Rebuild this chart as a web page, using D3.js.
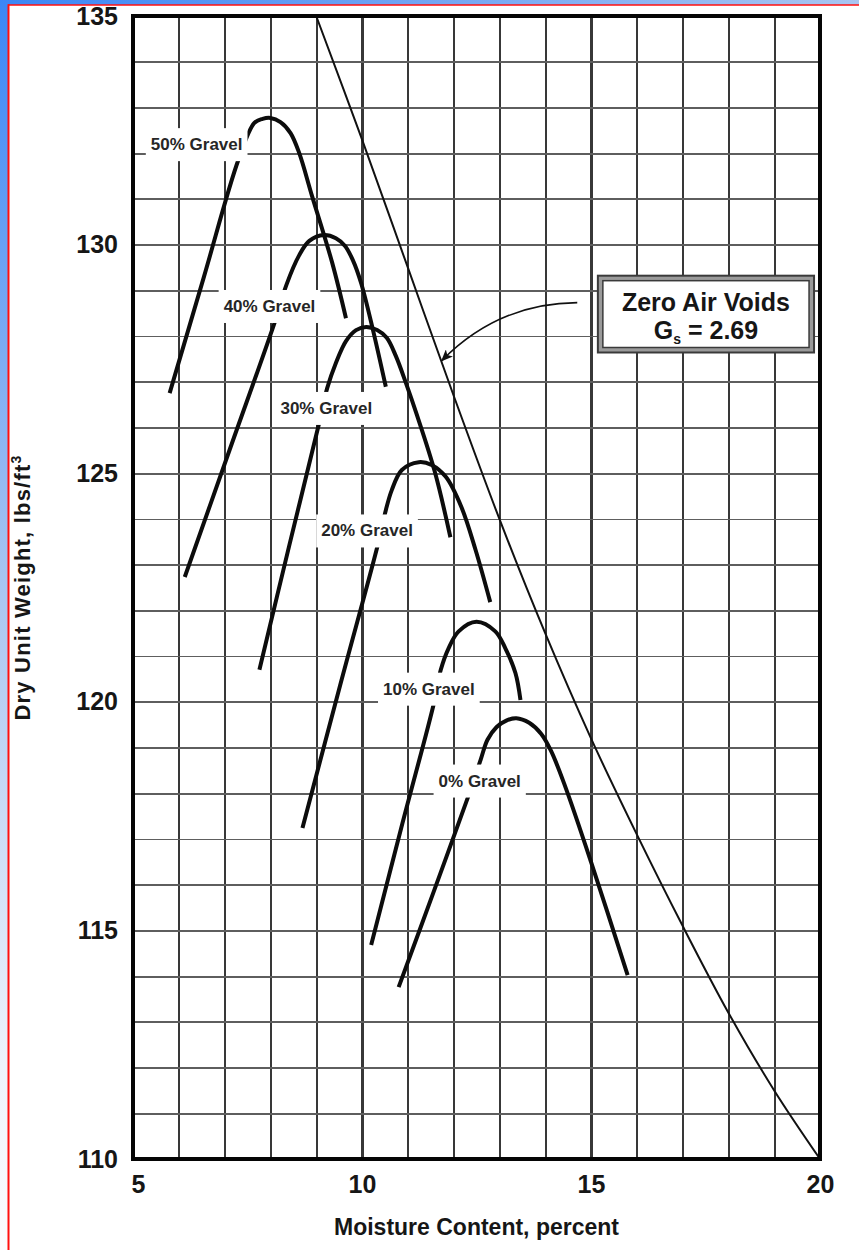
<!DOCTYPE html>
<html lang="en">

<head>
    <meta charset="UTF-8">
    <title>Moisture - Density Curves, Gravel Content</title>
    <style>
        body {
            margin: 0;
            background: #fff;
        }

        svg {
            display: block;
        }

        .grid line {
            shape-rendering: crispEdges;
        }

        .grid-x line {
            stroke: #383838;
            stroke-width: 2.2;
        }

        .grid-y line {
            stroke: #5e5e5e;
            stroke-width: 1.8;
        }

        .axis text {
            font-family: "Liberation Sans", Arial, sans-serif;
            font-weight: bold;
            font-size: 25px;
            fill: #161616;
        }

        .title {
            font-family: "Liberation Sans", Arial, sans-serif;
            font-weight: bold;
            fill: #161616;
        }

        .curve {
            fill: none;
            stroke: #0c0c0c;
            stroke-width: 4;
        }

        .zav {
            fill: none;
            stroke: #111;
            stroke-width: 2;
        }

        .gravel-label text {
            font-family: "Liberation Sans", Arial, sans-serif;
            font-weight: bold;
            font-size: 17px;
            fill: #262626;
            text-anchor: middle;
        }
    </style>
</head>

<body>
    <script src="https://d3js.org/d3.v7.min.js"></script>
    <script>
        const width = 859;
        const height = 1250;
        // plot frame inside the page
        const padding = { left: 133, right: 36, top: 16, bottom: 91 };

        // moisture content (%) / dry unit weight (lbs/ft3)
        const gravel50M = [5.80, 6.55, 7.30, 7.65, 7.83, 8.00, 8.22, 8.44, 8.63, 8.91, 9.35, 9.65];
        const gravel50W = [126.75, 129.30, 131.85, 132.66, 132.75, 132.77, 132.68, 132.44, 132.00, 131.06, 129.60, 128.39];

        const gravel40M = [6.13, 7.12, 8.11, 8.35, 8.63, 8.85, 9.17, 9.43, 9.63, 9.80, 9.98, 10.24, 10.52];
        const gravel40W = [122.73, 125.54, 128.35, 129.12, 129.77, 130.08, 130.21, 130.14, 129.97, 129.66, 129.16, 128.13, 126.89];

        const gravel30M = [7.76, 8.41, 9.07, 9.24, 9.43, 9.65, 9.87, 10.09, 10.33, 10.54, 10.74, 10.96, 11.20, 11.59, 11.93];
        const gravel30W = [120.70, 123.41, 126.12, 126.86, 127.41, 127.89, 128.13, 128.20, 128.13, 127.96, 127.56, 126.97, 126.27, 125.03, 123.60];

        const gravel20M = [8.70, 9.52, 10.35, 10.52, 10.65, 10.87, 11.24, 11.52, 11.83, 12.17, 12.48, 12.80];
        const gravel20W = [117.24, 120.35, 123.45, 124.19, 124.63, 125.07, 125.24, 125.18, 124.92, 124.26, 123.32, 122.18];

        const gravel10M = [10.20, 10.88, 11.57, 11.72, 11.89, 12.11, 12.50, 12.91, 13.13, 13.35, 13.46];
        const gravel10W = [114.68, 117.33, 119.97, 120.70, 121.17, 121.54, 121.75, 121.54, 121.17, 120.63, 120.04];

        const gravel0M = [10.80, 11.57, 12.33, 12.59, 12.74, 12.94, 13.15, 13.37, 13.65, 13.91, 14.13, 14.44, 15.00, 15.80];
        const gravel0W = [113.76, 115.86, 117.96, 118.73, 119.17, 119.45, 119.59, 119.64, 119.54, 119.30, 118.92, 118.14, 116.50, 114.02];

        // zero air voids line, Gs = 2.69
        const zavM = [9, 10, 11, 12, 13, 14, 15, 16, 17, 18, 19, 20];
        const zavW = [135.0, 132.3, 129.5, 126.7, 124.0, 121.5, 119.2, 117.1, 115.1, 113.2, 111.5, 110.0];

        const labelText = ['50% Gravel', '40% Gravel', '30% Gravel', '20% Gravel', '10% Gravel', '0% Gravel'];
        const labelM = [6.39, 7.98, 9.22, 10.11, 11.46, 12.57];
        const labelW = [132.2, 128.66, 126.43, 123.75, 120.29, 118.28];

        const xTicks = [5, 10, 15, 20];
        const yTicks = [110, 115, 120, 125, 130, 135];

        const curves = [
            [gravel50M, gravel50W],
            [gravel40M, gravel40W],
            [gravel30M, gravel30W],
            [gravel20M, gravel20W],
            [gravel10M, gravel10W],
            [gravel0M, gravel0W]
        ];

        const xScale = d3.scaleLinear()
            .domain([5, 20])
            .range([padding.left, width - padding.right - 3]);
        const yScale = d3.scaleLinear()
            .domain([110, 135])
            .range([height - padding.bottom, padding.top]);

        const svg = d3.select('body').append('svg').attr('width', width).attr('height', height);

        // page background: blue wash at the top left, red rule, white sheet
        const defs = svg.append('defs');
        const grad = defs.append('linearGradient')
            .attr('id', 'wash')
            .attr('gradientUnits', 'userSpaceOnUse')
            .attr('x1', 0).attr('y1', 0).attr('x2', width).attr('y2', height);
        grad.append('stop').attr('offset', 0).attr('stop-color', '#3a86f6');
        grad.append('stop').attr('offset', 0.33).attr('stop-color', '#acc7f1');
        grad.append('stop').attr('offset', 0.58).attr('stop-color', '#eef3fc');
        grad.append('stop').attr('offset', 0.7).attr('stop-color', '#ffffff');

        defs.append('marker')
            .attr('id', 'arrow')
            .attr('viewBox', '0 0 12 10')
            .attr('refX', 11)
            .attr('refY', 5)
            .attr('markerWidth', 12)
            .attr('markerHeight', 10)
            .attr('markerUnits', 'userSpaceOnUse')
            .attr('orient', 'auto')
            .append('path')
            .attr('d', 'M0,0 L12,5 L0,10 L3,5 z')
            .attr('fill', '#111');

        svg.append('rect').attr('width', width).attr('height', height).attr('fill', 'url(#wash)');
        svg.append('rect').attr('x', 8).attr('y', 5).attr('width', width - 8).attr('height', height - 5).attr('fill', '#fff');
        svg.append('line').attr('x1', 8).attr('x2', width).attr('y1', 5).attr('y2', 5)
            .attr('stroke', '#ff1010').attr('stroke-width', 1.6);
        svg.append('line').attr('x1', 8.5).attr('x2', 8.5).attr('y1', 4.2).attr('y2', height)
            .attr('stroke', '#ff1010').attr('stroke-width', 2);

        const plotW = xScale(20) - xScale(5);
        const plotH = yScale(110) - yScale(135);

        // grid, one line per percent and per lb
        svg.append('g')
            .attr('class', 'grid grid-x')
            .attr('transform', 'translate(0,' + yScale(110) + ')')
            .call(d3.axisBottom(xScale).tickValues(d3.range(6, 20)).tickSize(-plotH).tickFormat(''))
            .call(function (g) { g.select('.domain').remove(); });
        svg.append('g')
            .attr('class', 'grid grid-y')
            .attr('transform', 'translate(' + xScale(5) + ',0)')
            .call(d3.axisLeft(yScale).tickValues(d3.range(111, 135)).tickSize(-plotW).tickFormat(''))
            .call(function (g) { g.select('.domain').remove(); });

        const line = d3.line()
            .x(function (d) { return xScale(d[0]); })
            .y(function (d) { return yScale(d[1]); })
            .curve(d3.curveCatmullRom.alpha(0.5));

        svg.append('path')
            .attr('class', 'zav')
            .attr('d', line(d3.zip(zavM, zavW)));

        svg.selectAll('.curve')
            .data(curves)
            .enter()
            .append('path')
            .attr('class', 'curve')
            .attr('d', function (d) { return line(d3.zip(d[0], d[1])); });

        // labels sit on white boxes that cut the grid and the dry side
        const labels = svg.selectAll('.gravel-label')
            .data(labelText)
            .enter()
            .append('g')
            .attr('class', 'gravel-label')
            .attr('transform', function (d, i) {
                return 'translate(' + xScale(labelM[i]) + ',' + yScale(labelW[i]) + ')';
            });
        labels.append('text')
            .attr('dy', '0.36em')
            .text(function (d) { return d; });
        labels.each(function () {
            const g = d3.select(this);
            const bb = g.select('text').node().getBBox();
            g.insert('rect', 'text')
                .attr('x', bb.x - 5)
                .attr('y', bb.y - 7)
                .attr('width', bb.width + 10)
                .attr('height', bb.height + 14)
                .attr('fill', '#fff');
        });

        // zero air voids note
        const noteX0 = xScale(15.15), noteX1 = xScale(19.87);
        const noteY0 = yScale(129.32), noteY1 = yScale(127.64);
        const note = svg.append('g');
        note.append('rect')
            .attr('x', noteX0).attr('y', noteY0)
            .attr('width', noteX1 - noteX0).attr('height', noteY1 - noteY0)
            .attr('fill', '#9a9a9a').attr('stroke', '#3a3a3a').attr('stroke-width', 2);
        note.append('rect')
            .attr('x', noteX0 + 5).attr('y', noteY0 + 5)
            .attr('width', noteX1 - noteX0 - 10).attr('height', noteY1 - noteY0 - 10)
            .attr('fill', '#fff').attr('stroke', '#3a3a3a').attr('stroke-width', 1.5);
        const noteCx = (noteX0 + noteX1) / 2;
        note.append('text')
            .attr('class', 'title')
            .attr('x', noteCx).attr('y', noteY0 + 35)
            .attr('text-anchor', 'middle')
            .attr('font-size', 25)
            .text('Zero Air Voids');
        const gs = note.append('text')
            .attr('class', 'title')
            .attr('x', noteCx).attr('y', noteY0 + 63)
            .attr('text-anchor', 'middle')
            .attr('font-size', 25);
        gs.append('tspan').text('G');
        gs.append('tspan').attr('font-size', 14).attr('dy', 5).text('s');
        gs.append('tspan').attr('dy', -5).text(' = 2.69');

        svg.append('path')
            .attr('d', 'M' + xScale(14.70) + ',' + yScale(128.73) +
                ' Q' + xScale(12.98) + ',' + yScale(128.72) +
                ' ' + xScale(11.74) + ',' + yScale(127.46))
            .attr('fill', 'none')
            .attr('stroke', '#111')
            .attr('stroke-width', 1.6)
            .attr('marker-end', 'url(#arrow)');

        // frame
        svg.append('rect')
            .attr('x', xScale(5)).attr('y', yScale(135))
            .attr('width', plotW).attr('height', plotH)
            .attr('fill', 'none').attr('stroke', '#050505').attr('stroke-width', 4);

        // tick labels
        svg.append('g')
            .attr('class', 'axis')
            .attr('transform', 'translate(0,' + yScale(110) + ')')
            .call(d3.axisBottom(xScale).tickValues(xTicks).tickSize(0).tickPadding(16))
            .call(function (g) { g.select('.domain').remove(); })
            .call(function (g) { g.select('.tick text').attr('dx', 5); });
        svg.append('g')
            .attr('class', 'axis')
            .attr('transform', 'translate(' + xScale(5) + ',0)')
            .call(d3.axisLeft(yScale).tickValues(yTicks).tickSize(0).tickPadding(15))
            .call(function (g) { g.select('.domain').remove(); });

        // axis titles
        svg.append('text')
            .attr('class', 'title')
            .attr('x', (xScale(5) + xScale(20)) / 2)
            .attr('y', 1235)
            .attr('text-anchor', 'middle')
            .attr('font-size', 23)
            .text('Moisture Content, percent');

        const yTitle = svg.append('text')
            .attr('class', 'title')
            .attr('transform', 'translate(30,' + (yScale(110) + yScale(135)) / 2 + ') rotate(-90)')
            .attr('text-anchor', 'middle')
            .attr('font-size', 22)
            .attr('letter-spacing', 1.2);
        yTitle.append('tspan').text('Dry Unit Weight, lbs/ft');
        yTitle.append('tspan').attr('font-size', 14).attr('dy', -9).text('3');
    </script>
</body>

</html>
